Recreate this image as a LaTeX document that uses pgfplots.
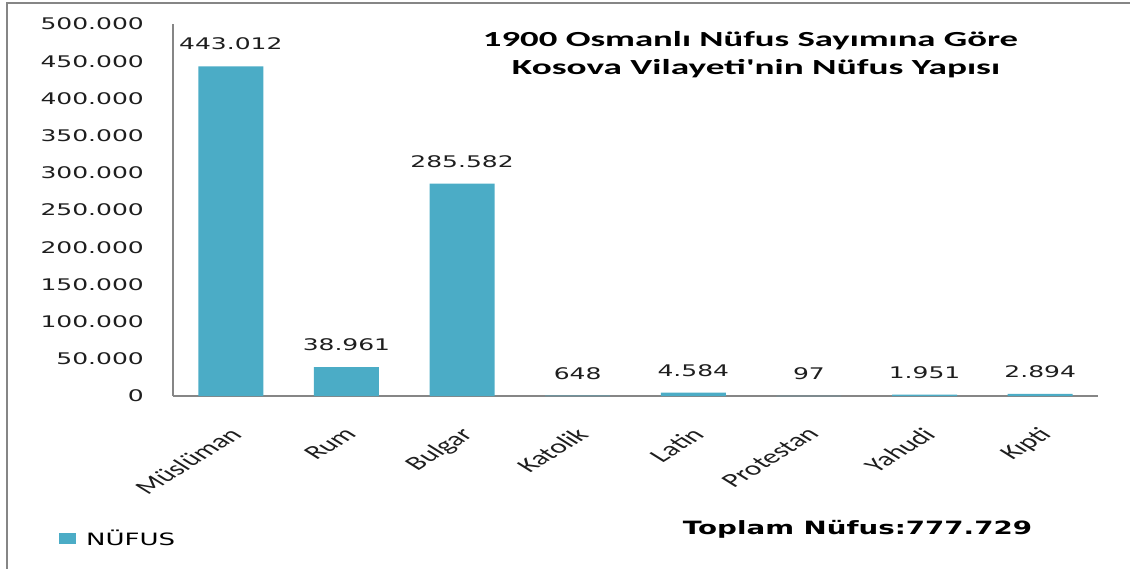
\documentclass[border=0pt]{standalone}
\usepackage{pgfplots}
\pgfplotsset{compat=1.18}
\usepackage{pgfplotstable}
\usepackage{graphicx}
\usepackage{fontspec}
\setmainfont{DejaVu Sans}
\newfontfamily\carlito{Carlito}
\newfontfamily\dejavu{DejaVu Sans}
\newcommand{\sx}[1]{\scalebox{1.56}[1]{#1}}
\definecolor{barblue}{HTML}{4BACC6}
\definecolor{axgray}{HTML}{868686}
\definecolor{txt}{HTML}{1E1E1E}

\pgfplotstableread{
x y lab
1 443012 443.012
2 38961 38.961
3 285582 285.582
4 648 648
5 4584 4.584
6 97 97
7 1951 1.951
8 2894 2.894
}\datatable

\begin{document}
\begin{tikzpicture}[x=1pt,y=1pt]
\useasboundingbox (0,0) rectangle (1130,-569);
\draw[axgray, line width=2pt] (7,-569) -- (7,-3) -- (1130,-3);
\begin{axis}[
  at={(173pt,-396pt)}, anchor=south west,
  scale only axis, width=925pt, height=372pt,
  xmin=0.5, xmax=8.5, ymin=0, ymax=500000,
  ybar, bar width=65pt,
  axis x line*=bottom, axis y line*=left,
  axis line style={-, axgray, line width=1.2pt},
  major tick length=0pt,
  scaled y ticks=false,
  xtick={1,...,8},
  xticklabels={Müslüman,Rum,Bulgar,Katolik,Latin,Protestan,Yahudi,Kıpti},
  xticklabel style={font=\fontsize{19.5}{20}\carlito, text=txt, inner sep=0pt, anchor=north east, xshift=-3pt, yshift=-30pt, xscale=1.6, rotate=45, transform shape},
  ytick={0,50000,100000,150000,200000,250000,300000,350000,400000,450000,500000},
  yticklabels={\sx{0},\sx{50.000},\sx{100.000},\sx{150.000},\sx{200.000},\sx{250.000},\sx{300.000},\sx{350.000},\sx{400.000},\sx{450.000},\sx{500.000}},
  yticklabel style={font=\fontsize{16}{18}\dejavu, text=txt, anchor=east, inner sep=0pt, xshift=-29pt},
  legend style={at={(-0.1232,-0.383)}, anchor=west, draw=none, fill=none, inner sep=0pt, nodes={inner sep=0pt}, column sep=10pt, font=\fontsize{17}{18}\dejavu},
  legend image code/.code={\fill[barblue] (0pt,-5.5pt) rectangle (17pt,5.5pt);},
]
\addplot[fill=barblue, draw=none,
  point meta=explicit symbolic,
  nodes near coords={\sx{\pgfplotspointmeta}},
  nodes near coords style={font=\fontsize{16}{18}\dejavu, text=txt, anchor=south, inner sep=0pt, yshift=16pt}]
  table[x=x, y=y, meta=lab] {\datatable};
\addlegendentry{\resizebox{89pt}{\height}{NÜFUS}}
\end{axis}
\node[anchor=base, inner sep=0pt] at (750.5,-46.5) {\resizebox{535pt}{\height}{\carlito\bfseries\fontsize{21.5}{24}\selectfont 1900 Osmanlı Nüfus Sayımına Göre}};
\node[anchor=base, inner sep=0pt] at (756,-75) {\resizebox{488pt}{\height}{\carlito\bfseries\fontsize{21.5}{24}\selectfont Kosova Vilayeti'nin Nüfus Yapısı}};
\node[anchor=base, inner sep=0pt] at (857.5,-534) {\resizebox{349pt}{\height}{\dejavu\bfseries\fontsize{18.3}{20}\selectfont Toplam Nüfus:777.729}};
\end{tikzpicture}
\end{document}
